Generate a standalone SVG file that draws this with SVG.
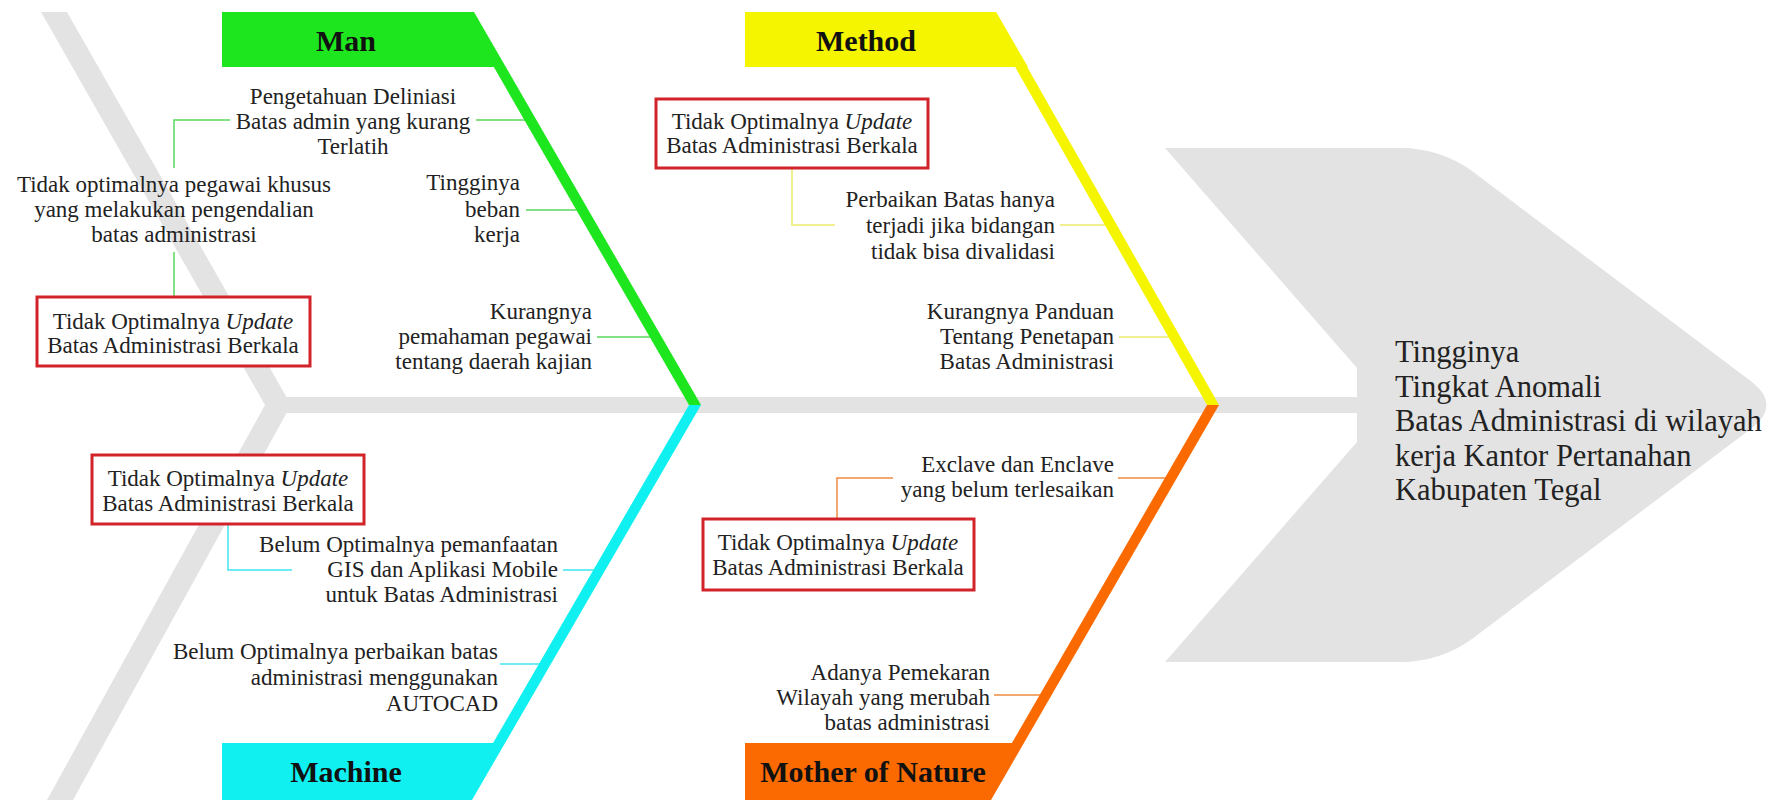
<svg xmlns="http://www.w3.org/2000/svg" width="1780" height="800" viewBox="0 0 1780 800">
<style>
text{font-family:"Liberation Serif","Times New Roman",serif;fill:#222}
.t{font-size:23px}
.r{text-anchor:end}
.m{text-anchor:middle}
.h{font-size:30px;font-weight:bold;text-anchor:middle;fill:#111}
.hd{font-size:30.5px}
.gray{fill:#E3E3E3}
.box{fill:#fff;stroke:#D2232A;stroke-width:3}
.cg{stroke:#5CD65C;stroke-width:1.5;fill:none}
.cc{stroke:#40E6EE;stroke-width:1.5;fill:none}
.cy{stroke:#ECEC70;stroke-width:1.5;fill:none}
.co{stroke:#F08C40;stroke-width:1.5;fill:none}
</style>
<rect width="1780" height="800" fill="#fff"/>
<g id="backbone">
<polygon class="gray" points="41,12 67,12 291,405 73,800 47,800 265,405"/>
<rect class="gray" x="280" y="397" width="1082" height="16"/>
</g>
<g id="head">
<path class="gray" d="M1165,148 L1400,148 Q1440,148 1472,171 L1752,382 Q1781,405 1752,428 L1472,639 Q1440,662 1400,662 L1165,662 L1357,442 L1357,368 Z"/>
<text class="hd" x="1395" y="362">Tingginya</text>
<text class="hd" x="1395" y="396.5">Tingkat Anomali</text>
<text class="hd" x="1395" y="431">Batas Administrasi di wilayah</text>
<text class="hd" x="1395" y="465.5">kerja Kantor Pertanahan</text>
<text class="hd" x="1395" y="500">Kabupaten Tegal</text>
</g>
<g id="connectors">
<path class="cg" d="M476,120 L531,120 M230,120 L174,120 L174,168 M174,252 L174,297 M526,210 L580,210 M597,337 L656,337"/>
<path class="cy" d="M792,168 L792,225 L835,225 M1060,225 L1110,225 M1119,337 L1173,337"/>
<path class="cc" d="M563,570 L600,570 M292,570 L228,570 L228,523 M500,664 L545,664"/>
<path class="co" d="M1118,478 L1170,478 M893,478 L837,478 L837,519 M994,695 L1046,695"/>
</g>
<g id="man">
<polygon fill="#1EE61E" points="222,12 472,12 504,67 222,67"/>
<polygon fill="#1EE61E" points="462,12 474,12 701,405 689,405"/>
<text class="h" x="346" y="51">Man</text>
</g>
<g id="machine">
<polygon fill="#10F0F0" points="222,743 501,743 467,800 222,800"/>
<polygon fill="#10F0F0" points="689,405 701,405 472,800 460,800"/>
<text class="h" x="346" y="782">Machine</text>
</g>
<g id="method">
<polygon fill="#F5F500" points="745,12 996,12 1028,67 745,67"/>
<polygon fill="#F5F500" points="984,12 996,12 1219,405 1207,405"/>
<text class="h" x="866" y="51">Method</text>
</g>
<g id="mother">
<polygon fill="#FA6A00" points="745,743 1020,743 986,800 745,800"/>
<polygon fill="#FA6A00" points="1207,405 1219,405 991,800 979,800"/>
<text class="h" x="873" y="782">Mother of Nature</text>
</g>
<g id="man-causes">
<text class="t m" x="353" y="104">Pengetahuan Deliniasi</text>
<text class="t m" x="353" y="129">Batas admin yang kurang</text>
<text class="t m" x="353" y="154">Terlatih</text>
<text class="t m" x="174" y="192">Tidak optimalnya pegawai khusus</text>
<text class="t m" x="174" y="217">yang melakukan pengendalian</text>
<text class="t m" x="174" y="242">batas administrasi</text>
<text class="t r" x="520" y="190">Tingginya</text>
<text class="t r" x="520" y="217">beban</text>
<text class="t r" x="520" y="242">kerja</text>
<text class="t r" x="592" y="319">Kurangnya</text>
<text class="t r" x="592" y="344">pemahaman pegawai</text>
<text class="t r" x="592" y="369">tentang daerah kajian</text>
</g>
<g id="man-box">
<rect class="box" x="37" y="297" width="273" height="69"/>
<text class="t m" x="173" y="329">Tidak Optimalnya <tspan font-style="italic">Update</tspan></text>
<text class="t m" x="173" y="353">Batas Administrasi Berkala</text>
</g>
<g id="method-box">
<rect class="box" x="656" y="99" width="272" height="69"/>
<text class="t m" x="792" y="129">Tidak Optimalnya <tspan font-style="italic">Update</tspan></text>
<text class="t m" x="792" y="153">Batas Administrasi Berkala</text>
</g>
<g id="method-causes">
<text class="t r" x="1055" y="207">Perbaikan Batas hanya</text>
<text class="t r" x="1055" y="233">terjadi jika bidangan</text>
<text class="t r" x="1055" y="259">tidak bisa divalidasi</text>
<text class="t r" x="1114" y="319">Kurangnya Panduan</text>
<text class="t r" x="1114" y="344">Tentang Penetapan</text>
<text class="t r" x="1114" y="369">Batas Administrasi</text>
</g>
<g id="machine-box">
<rect class="box" x="92" y="455" width="272" height="69"/>
<text class="t m" x="228" y="486">Tidak Optimalnya <tspan font-style="italic">Update</tspan></text>
<text class="t m" x="228" y="511">Batas Administrasi Berkala</text>
</g>
<g id="machine-causes">
<text class="t r" x="558" y="552">Belum Optimalnya pemanfaatan</text>
<text class="t r" x="558" y="577">GIS dan Aplikasi Mobile</text>
<text class="t r" x="558" y="602">untuk Batas Administrasi</text>
<text class="t r" x="498" y="659">Belum Optimalnya perbaikan batas</text>
<text class="t r" x="498" y="685">administrasi menggunakan</text>
<text class="t r" x="498" y="711">AUTOCAD</text>
</g>
<g id="mother-box">
<rect class="box" x="703" y="519" width="271" height="71"/>
<text class="t m" x="838" y="550">Tidak Optimalnya <tspan font-style="italic">Update</tspan></text>
<text class="t m" x="838" y="575">Batas Administrasi Berkala</text>
</g>
<g id="mother-causes">
<text class="t r" x="1114" y="472">Exclave dan Enclave</text>
<text class="t r" x="1114" y="497">yang belum terlesaikan</text>
<text class="t r" x="990" y="680">Adanya Pemekaran</text>
<text class="t r" x="990" y="705">Wilayah yang merubah</text>
<text class="t r" x="990" y="730">batas administrasi</text>
</g>
</svg>
